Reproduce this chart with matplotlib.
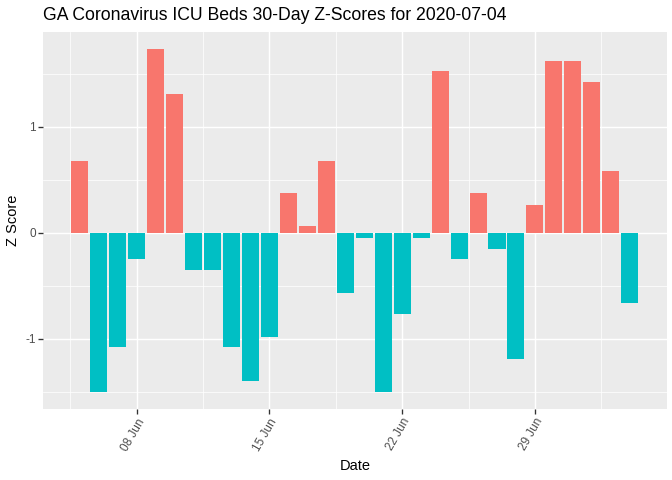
import matplotlib
matplotlib.use("Agg")
import matplotlib.pyplot as plt
import matplotlib.dates as mdates
import numpy as np
import pandas as pd

dates = pd.date_range("2020-06-05", "2020-07-04", freq="D")
z_scores = [0.68, -1.50, -1.08, -0.25, 1.73, 1.31, -0.35, -0.35, -1.08, -1.40,
            -0.98, 0.37, 0.06, 0.68, -0.57, -0.05, -1.50, -0.77, -0.05, 1.52,
            -0.25, 0.37, -0.15, -1.19, 0.26, 1.62, 1.62, 1.42, 0.58, -0.66]

plt.rcParams['font.family'] = ['Liberation Sans', 'DejaVu Sans']

fig = plt.figure(figsize=(7, 5), dpi=96)
ax = fig.add_axes([43 / 672, 1 - 409 / 480, (666.6 - 43) / 672, (409 - 32) / 480])

colors = ['#F8766D' if v > 0 else '#00BFC4' for v in z_scores]
ax.bar(dates, z_scores, width=0.9, color=colors, zorder=3)

ax.set_facecolor('#EBEBEB')
for s in ax.spines.values():
    s.set_visible(False)

ax.set_xlim(mdates.date2num(pd.Timestamp("2020-06-05")) - 0.45 - 1.495,
            mdates.date2num(pd.Timestamp("2020-07-04")) + 0.45 + 1.495)
ax.set_ylim(-1.5 - 0.1615, 1.73 + 0.1615)

ticks = pd.to_datetime(["2020-06-08", "2020-06-15", "2020-06-22", "2020-06-29"])
ax.set_xticks(ticks)
ax.set_xticklabels([t.strftime("%d %b") for t in ticks], rotation=60, ha='right',
                   rotation_mode='anchor', fontsize=8.8, color='#4D4D4D')
minor_x = pd.to_datetime(["2020-06-04 12:00", "2020-06-11 12:00", "2020-06-18 12:00",
                          "2020-06-25 12:00", "2020-07-02 12:00"])
ax.set_xticks(minor_x, minor=True)
ax.set_yticks([-1, 0, 1])
ax.set_yticklabels(['-1', '0', '1'], fontsize=8.8, color='#4D4D4D')
ax.set_yticks([-1.5, -0.5, 0.5, 1.5], minor=True)

ax.grid(which='major', color='white', linewidth=1.1, zorder=0)
ax.grid(which='minor', color='white', linewidth=0.55, zorder=0)
ax.set_axisbelow(True)
ax.tick_params(which='major', length=3.5, width=1, color='#333333', pad=2)
ax.tick_params(which='minor', length=0)

ax.set_xlabel("Date", fontsize=11, labelpad=4)
ax.set_ylabel("Z Score", fontsize=11, labelpad=4)
fig.text(43 / 672, 1 - 16 / 480, "GA Coronavirus ICU Beds 30-Day Z-Scores for 2020-07-04",
         fontsize=13.2, va='center', ha='left')

fig.savefig("out.png", dpi=96)
